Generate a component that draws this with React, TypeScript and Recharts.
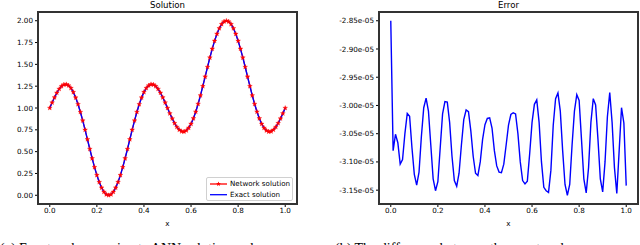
import { LineChart, Line, XAxis, YAxis, Label } from "recharts";

const FONT = '"DejaVu Sans", sans-serif';

// x grid (101 points)
const xs = [
  0.0, 0.01, 0.02, 0.03, 0.04, 0.05, 0.06, 0.07, 0.08, 0.09,
  0.1, 0.11, 0.12, 0.13, 0.14, 0.15, 0.16, 0.17, 0.18, 0.19,
  0.2, 0.21, 0.22, 0.23, 0.24, 0.25, 0.26, 0.27, 0.28, 0.29,
  0.3, 0.31, 0.32, 0.33, 0.34, 0.35, 0.36, 0.37, 0.38, 0.39,
  0.4, 0.41, 0.42, 0.43, 0.44, 0.45, 0.46, 0.47, 0.48, 0.49,
  0.5, 0.51, 0.52, 0.53, 0.54, 0.55, 0.56, 0.57, 0.58, 0.59,
  0.6, 0.61, 0.62, 0.63, 0.64, 0.65, 0.66, 0.67, 0.68, 0.69,
  0.7, 0.71, 0.72, 0.73, 0.74, 0.75, 0.76, 0.77, 0.78, 0.79,
  0.8, 0.81, 0.82, 0.83, 0.84, 0.85, 0.86, 0.87, 0.88, 0.89,
  0.9, 0.91, 0.92, 0.93, 0.94, 0.95, 0.96, 0.97, 0.98, 0.99,
  1.0,
];

// left panel: network solution (red stars) and exact solution (blue)
const networkU = [
  1.0, 1.062, 1.121, 1.174, 1.218, 1.25, 1.268, 1.271, 1.258, 1.228,
  1.182, 1.119, 1.043, 0.954, 0.856, 0.75, 0.641, 0.53, 0.423, 0.322,
  0.231, 0.151, 0.087, 0.039, 0.01, 0.0, 0.01, 0.039, 0.087, 0.151,
  0.231, 0.322, 0.423, 0.53, 0.641, 0.75, 0.856, 0.954, 1.043, 1.119,
  1.182, 1.228, 1.258, 1.271, 1.268, 1.25, 1.218, 1.174, 1.121, 1.062,
  1.0, 0.938, 0.879, 0.826, 0.782, 0.75, 0.732, 0.729, 0.742, 0.772,
  0.818, 0.881, 0.957, 1.046, 1.144, 1.25, 1.359, 1.47, 1.577, 1.678,
  1.769, 1.849, 1.913, 1.961, 1.99, 2.0, 1.99, 1.961, 1.913, 1.849,
  1.769, 1.678, 1.577, 1.47, 1.359, 1.25, 1.144, 1.046, 0.957, 0.881,
  0.818, 0.772, 0.742, 0.729, 0.732, 0.75, 0.782, 0.826, 0.879, 0.938,
  1.0,
];
const exactU = networkU;

// right panel: error, in units of 1e-05
const errorE5 = [
  -2.85, -3.08, -3.051, -3.066, -3.104, -3.096, -3.05, -3.014, -3.019, -3.075,
  -3.122, -3.141, -3.118, -3.055, -3.004, -2.987, -3.01, -3.07, -3.13, -3.151,
  -3.135, -3.075, -3.015, -2.993, -2.994, -3.03, -3.09, -3.133, -3.143, -3.12,
  -3.07, -3.025, -3.008, -3.011, -3.045, -3.09, -3.12, -3.124, -3.1, -3.06,
  -3.034, -3.023, -3.022, -3.04, -3.08, -3.107, -3.118, -3.119, -3.104, -3.07,
  -3.035, -3.016, -3.013, -3.015, -3.05, -3.1, -3.133, -3.139, -3.134, -3.085,
  -3.03, -2.998, -2.99, -3.03, -3.1, -3.145, -3.151, -3.154, -3.115, -3.035,
  -2.988, -2.978, -3.01, -3.08, -3.14, -3.159, -3.14, -3.07, -3.01, -2.981,
  -2.991, -3.06, -3.13, -3.155, -3.11, -3.03, -2.988, -2.999, -3.06, -3.13,
  -3.153, -3.1, -3.02, -2.977, -3.03, -3.11, -3.156, -3.08, -3.004, -3.031,
  -3.142,
];

const xTicks = [0, 0.2, 0.4, 0.6, 0.8, 1.0];
const uTicks = [0, 0.25, 0.5, 0.75, 1.0, 1.25, 1.5, 1.75, 2.0];
const errTicks = [-3.15, -3.1, -3.05, -3.0, -2.95, -2.9, -2.85];

const solutionData = xs.map((x, i) => ({ x, network: networkU[i], exact: exactU[i] }));
const errorData = xs.map((x, i) => ({ x, err: errorE5[i] }));

const tickStyle = { fill: "#000", fontSize: 7.2, fontFamily: FONT };
const X_DOMAIN: [number, number] = [-0.05, 1.05];
const U_DOMAIN: [number, number] = [-0.1, 2.1];
const ERR_DOMAIN: [number, number] = [-3.1745, -2.8345];

function starPath(cx: number, cy: number, r: number) {
  let d = "";
  for (let k = 0; k < 10; k++) {
    const rr = k % 2 === 0 ? r : r * 0.42;
    const a = -Math.PI / 2 + (k * Math.PI) / 5;
    d += (k === 0 ? "M" : "L") + (cx + rr * Math.cos(a)).toFixed(2) + "," + (cy + rr * Math.sin(a)).toFixed(2);
  }
  return d + "Z";
}

const StarDot = (props: any) => {
  const { cx, cy, index } = props;
  if (cx == null || cy == null) return <g key={index} />;
  return <path key={index} d={starPath(cx, cy, 2.5)} fill="#ff0000" stroke="#ff0000" strokeWidth={0.3} />;
};

const SolutionLegend = () => (
  <div
    style={{
      position: "absolute",
      left: 206,
      top: 177,
      width: 85,
      height: 22,
      border: "1px solid #d0d0d0",
      borderRadius: 2,
      background: "rgba(255,255,255,0.8)",
      fontFamily: FONT,
      fontSize: 7.1,
      color: "#000",
      zIndex: 6,
    }}
  >
    <svg width={22} height={22} style={{ position: "absolute", left: 2, top: 0 }}>
      <line x1={1} x2={18} y1={6} y2={6} stroke="#ff0000" strokeWidth={1.3} />
      <path d={starPath(9.5, 6, 2.6)} fill="#ff0000" />
      <line x1={1} x2={18} y1={16.7} y2={16.7} stroke="#0000ff" strokeWidth={1.3} />
    </svg>
    <div style={{ position: "absolute", left: 23, top: 1, lineHeight: "10px", whiteSpace: "nowrap" }}>Network solution</div>
    <div style={{ position: "absolute", left: 23, top: 11.7, lineHeight: "10px", whiteSpace: "nowrap" }}>Exact solution</div>
  </div>
);

const titleStyle = (left: number, width: number): React.CSSProperties => ({
  position: "absolute",
  left,
  width,
  top: 0,
  lineHeight: "10px",
  textAlign: "center",
  fontFamily: FONT,
  fontSize: 8.6,
  color: "#000",
});

const captionStyle = (left: number): React.CSSProperties => ({
  position: "absolute",
  left,
  top: 242,
  fontFamily: '"Liberation Serif", "DejaVu Serif", serif',
  fontSize: 14,
  lineHeight: "14px",
  whiteSpace: "nowrap",
  color: "#000",
});

// axes boxes (matplotlib-style frame around each plot), drawn over both panels
const FrameOverlay = () => (
  <svg width={640} height={245} style={{ position: "absolute", left: 0, top: 0, pointerEvents: "none", zIndex: 5 }}>
    <rect x={38} y={12} width={259} height={192} fill="none" stroke="#333" strokeWidth={2} />
    <rect x={379} y={12} width={259} height={192} fill="none" stroke="#333" strokeWidth={2} />
  </svg>
);

export default function App() {
  return (
    <div
      style={{
        position: "fixed",
        left: 0,
        top: 0,
        width: 640,
        height: 245,
        overflow: "hidden",
        background: "#fff",
      }}
    >
      <div style={{ position: "absolute", left: 0, top: 0, width: 320, height: 245 }}>
        <LineChart width={320} height={245} data={solutionData} margin={{ top: 12, right: 23, left: 0, bottom: 0 }}>
          <XAxis
            dataKey="x"
            type="number"
            domain={X_DOMAIN}
            ticks={xTicks}
            tickFormatter={(v: number) => v.toFixed(1)}
            tick={tickStyle}
            tickSize={3}
            tickMargin={1}
            axisLine={{ stroke: "#333" }}
            tickLine={{ stroke: "#000" }}
            height={41}
            allowDataOverflow
          >
            <Label value="x" position="insideBottom" offset={19} style={{ fontFamily: FONT, fontSize: 7.2, fill: "#000" }} />
          </XAxis>
          <YAxis
            type="number"
            domain={U_DOMAIN}
            ticks={uTicks}
            tickFormatter={(v: number) => v.toFixed(2)}
            tick={tickStyle}
            tickSize={3}
            tickMargin={2}
            axisLine={{ stroke: "#333" }}
            tickLine={{ stroke: "#000" }}
            width={38}
            allowDataOverflow
          />
          <Line
            dataKey="network"
            name="Network solution"
            stroke="#ff0000"
            strokeWidth={1.2}
            dot={StarDot}
            isAnimationActive={false}
          />
          <Line dataKey="exact" name="Exact solution" stroke="#0000ff" strokeWidth={1.4} dot={false} isAnimationActive={false} />
        </LineChart>
        <div style={titleStyle(38, 259)}>Solution</div>
        <SolutionLegend />
      </div>

      <div style={{ position: "absolute", left: 320, top: 0, width: 320, height: 245 }}>
        <LineChart width={320} height={245} data={errorData} margin={{ top: 12, right: 2, left: 0, bottom: 0 }}>
          <XAxis
            dataKey="x"
            type="number"
            domain={X_DOMAIN}
            ticks={xTicks}
            tickFormatter={(v: number) => v.toFixed(1)}
            tick={tickStyle}
            tickSize={3}
            tickMargin={1}
            axisLine={{ stroke: "#333" }}
            tickLine={{ stroke: "#000" }}
            height={41}
            allowDataOverflow
          >
            <Label value="x" position="insideBottom" offset={19} style={{ fontFamily: FONT, fontSize: 7.2, fill: "#000" }} />
          </XAxis>
          <YAxis
            type="number"
            domain={ERR_DOMAIN}
            ticks={errTicks}
            tickFormatter={(v: number) => v.toFixed(2) + "e-05"}
            tick={tickStyle}
            tickSize={3}
            tickMargin={2}
            axisLine={{ stroke: "#333" }}
            tickLine={{ stroke: "#000" }}
            width={59}
            allowDataOverflow
          />
          <Line dataKey="err" name="Error" stroke="#0000ff" strokeWidth={1.4} dot={false} isAnimationActive={false} />
        </LineChart>
        <div style={titleStyle(59, 259)}>Error</div>
      </div>

      <FrameOverlay />

      <div style={captionStyle(0)}>(a) Exact and approximate ANN solution and</div>
      <div style={captionStyle(335)}>(b) The difference between the exact and</div>
    </div>
  );
}
